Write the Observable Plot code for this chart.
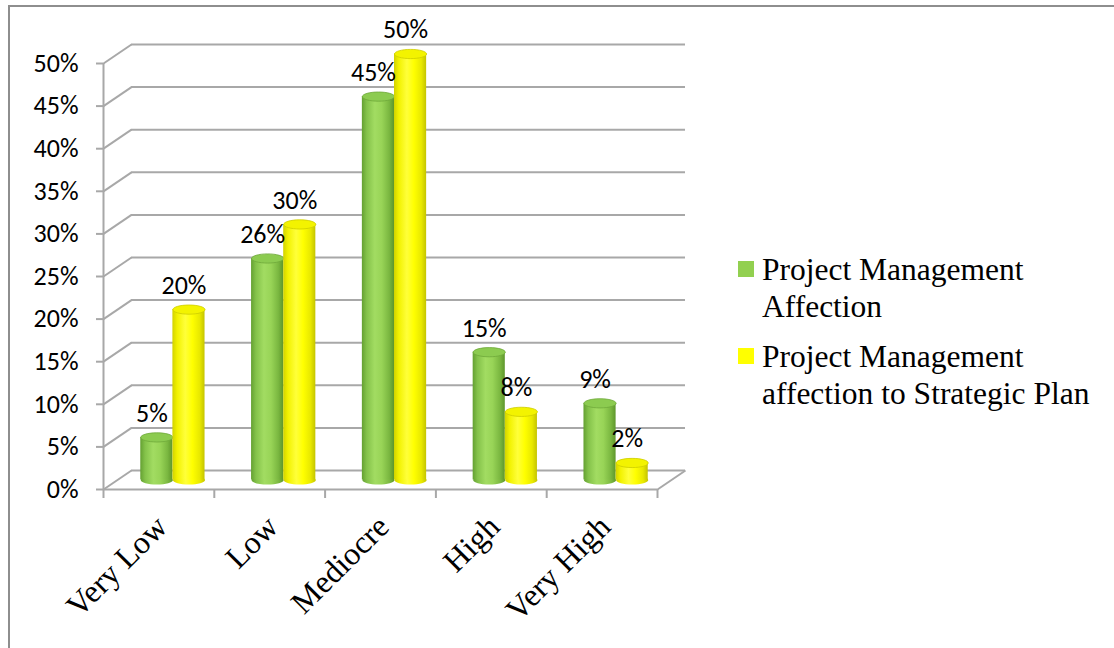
<!DOCTYPE html>
<html>
<head>
<meta charset="utf-8">
<script src="https://cdn.jsdelivr.net/npm/d3@7"></script>
<script src="https://cdn.jsdelivr.net/npm/@observablehq/plot@0.6"></script>
<style>
  html, body { margin: 0; padding: 0; background: #fff; }
  #wrap { position: relative; width: 1114px; height: 648px; overflow: hidden; }
  #frame { position: absolute; left: 8px; top: 5px; right: -4px; bottom: -4px;
           border-top: 2px solid #8e8e8e; border-left: 2px solid #8e8e8e; }
  #chart { position: absolute; left: 0; top: 0; }
  #legend { position: absolute; left: 738px; top: 251px;
            font-family: "Liberation Serif", "Times New Roman", serif; font-size: 31.5px;
            line-height: 37px; color: #000; }
  .item { position: relative; padding-left: 24px; margin-bottom: 13px; }
  .sw { position: absolute; left: 0; top: 10px; width: 16px; height: 16px; }
</style>
</head>
<body>
<div id="wrap">
  <div id="frame"></div>
  <div id="chart"></div>
  <div id="legend"></div>
</div>
<script>
// Survey answers: share of respondents per rating level
const categories = ["Very Low", "Low", "Mediocre", "High", "Very High"];
const seriesNames = [
  ["Project Management", "Affection"],
  ["Project Management", "affection to Strategic Plan"]
];
const pmAffection = [5, 26, 45, 15, 9];
const strategicPlan = [20, 30, 50, 8, 2];
const yTicks = [0, 5, 10, 15, 20, 25, 30, 35, 40, 45, 50];

const swatch = ["#92d050", "#ffff00"];

// Chart box and the fake 3-D depth of the floor/back wall (in data units)
const W = 1114, H = 648;
const mL = 103, mR = 457, mT = 63, mB = 159;
const pxPerCat = (W - mL - mR) / categories.length;
const pxPerPct = (H - mT - mB) / 50;
const depthX = 28 / pxPerCat;   // horizontal run of the depth axis
const depthY = 19 / pxPerPct;   // vertical rise of the depth axis
const midX = depthX / 2, midY = depthY / 2;
const slot = [0.21, 0.5, 0.79];  // cylinder edges inside a category band

const rows = categories.flatMap((c, i) =>
  [pmAffection[i], strategicPlan[i]].map((v, s) => ({category: c, index: i, s, value: v})));
const greenRows = rows.filter(d => d.s === 0);
const yellowRows = rows.filter(d => d.s === 1);

const barLeft = d => d.index + midX + slot[d.s];
const barRight = d => d.index + midX + slot[d.s + 1];
const barCenter = d => (barLeft(d) + barRight(d)) / 2;
const capY = d => d.value + midY;

// Ellipse symbol for cylinder caps and bases
const rx = (slot[1] - slot[0]) * pxPerCat / 2, ry = 4.6;
const ellipse = {
  draw(ctx) {
    const k = 0.5523;
    ctx.moveTo(-rx, 0);
    ctx.bezierCurveTo(-rx, -ry * k, -rx * k, -ry, 0, -ry);
    ctx.bezierCurveTo(rx * k, -ry, rx, -ry * k, rx, 0);
    ctx.bezierCurveTo(rx, ry * k, rx * k, ry, 0, ry);
    ctx.bezierCurveTo(-rx * k, ry, -rx, ry * k, -rx, 0);
    ctx.closePath();
  }
};

function gradients() {
  const ns = "http://www.w3.org/2000/svg";
  const defs = document.createElementNS(ns, "defs");
  const make = (id, stops) => {
    const g = document.createElementNS(ns, "linearGradient");
    g.setAttribute("id", id);
    g.setAttribute("x1", "0"); g.setAttribute("x2", "1");
    g.setAttribute("y1", "0"); g.setAttribute("y2", "0");
    for (const [o, c] of stops) {
      const s = document.createElementNS(ns, "stop");
      s.setAttribute("offset", o); s.setAttribute("stop-color", c);
      g.appendChild(s);
    }
    defs.appendChild(g);
  };
  make("cylGreen", [[0, "#64a032"], [0.15, "#84c24a"], [0.4, "#a2dc62"], [0.62, "#98d457"], [0.85, "#7ab740"], [1, "#5e962c"]]);
  make("cylYellow", [[0, "#d2d200"], [0.15, "#f2f200"], [0.4, "#ffff3a"], [0.62, "#ffff00"], [0.85, "#e8e800"], [1, "#c4c400"]]);
  return defs;
}

const grid = "#a8a8a8";
const sans = "Carlito, Calibri, 'Open Sans', sans-serif";
const serif = "'Liberation Serif', 'Times New Roman', serif";

const cylinder = (data, grad, capFill, capStroke) => [
  Plot.dot(data, {x: barCenter, y: midY, symbol: ellipse, fill: grad}),
  Plot.rect(data, {x1: barLeft, x2: barRight, y1: midY, y2: capY, fill: grad}),
  Plot.dot(data, {x: barCenter, y: capY, symbol: ellipse, fill: capFill, stroke: capStroke, strokeWidth: 0.8})
];

const chart = Plot.plot({
  width: W, height: H,
  marginLeft: mL, marginRight: mR, marginTop: mT, marginBottom: mB,
  x: {domain: [0, categories.length], axis: null},
  y: {domain: [0, 50], axis: null},
  style: {background: "transparent", overflow: "visible"},
  marks: [
    gradients,
    // back wall gridlines
    Plot.ruleY(yTicks, {y: d => d + depthY, x1: depthX, x2: categories.length + depthX, stroke: grid, strokeWidth: 2}),
    // left wall depth lines
    Plot.link(yTicks, {x1: 0, y1: d => d, x2: depthX, y2: d => d + depthY, stroke: grid, strokeWidth: 2}),
    // right edge of the floor
    Plot.link([0], {x1: categories.length, y1: 0, x2: categories.length + depthX, y2: depthY, stroke: grid, strokeWidth: 2}),
    // front axes
    Plot.ruleX([0], {y1: 0, y2: 50, stroke: grid, strokeWidth: 2}),
    Plot.ruleY([0], {x1: 0, x2: categories.length, stroke: grid, strokeWidth: 2}),
    Plot.ruleY(yTicks, {x1: -7 / pxPerCat, x2: 0, stroke: grid, strokeWidth: 2}),
    Plot.ruleX(d3.range(categories.length + 1), {y1: -9 / pxPerPct, y2: 0, stroke: grid, strokeWidth: 2}),
    // tick labels
    Plot.text(yTicks, {x: 0, y: d => d, text: d => d + "%", textAnchor: "end", dx: -25,
      fontSize: 26, fontFamily: sans, fill: "#000"}),
    Plot.text(categories, {x: (d, i) => i + 0.5, y: 0, text: d => d, rotate: -45, textAnchor: "end",
      dx: 3, dy: 32, fontSize: 32, fontFamily: serif, fill: "#000"}),
    // cylinders
    ...cylinder(greenRows, "url(#cylGreen)", "#8ccb50", "#6ea83a"),
    ...cylinder(yellowRows, "url(#cylYellow)", "#f3f300", "#cdcd00"),
    // value labels
    Plot.text(rows, {x: barCenter, y: capY, text: d => d.value + "%", dx: -5, dy: -24,
      fontSize: 26, fontFamily: sans, fill: "#000"})
  ]
});
document.getElementById("chart").appendChild(chart);

// legend
const legend = document.getElementById("legend");
seriesNames.forEach((lines, i) => {
  const item = document.createElement("div");
  item.className = "item";
  const sw = document.createElement("span");
  sw.className = "sw";
  sw.style.background = swatch[i];
  item.appendChild(sw);
  lines.forEach(t => {
    const l = document.createElement("div");
    l.textContent = t;
    item.appendChild(l);
  });
  legend.appendChild(item);
});
</script>
</body>
</html>
